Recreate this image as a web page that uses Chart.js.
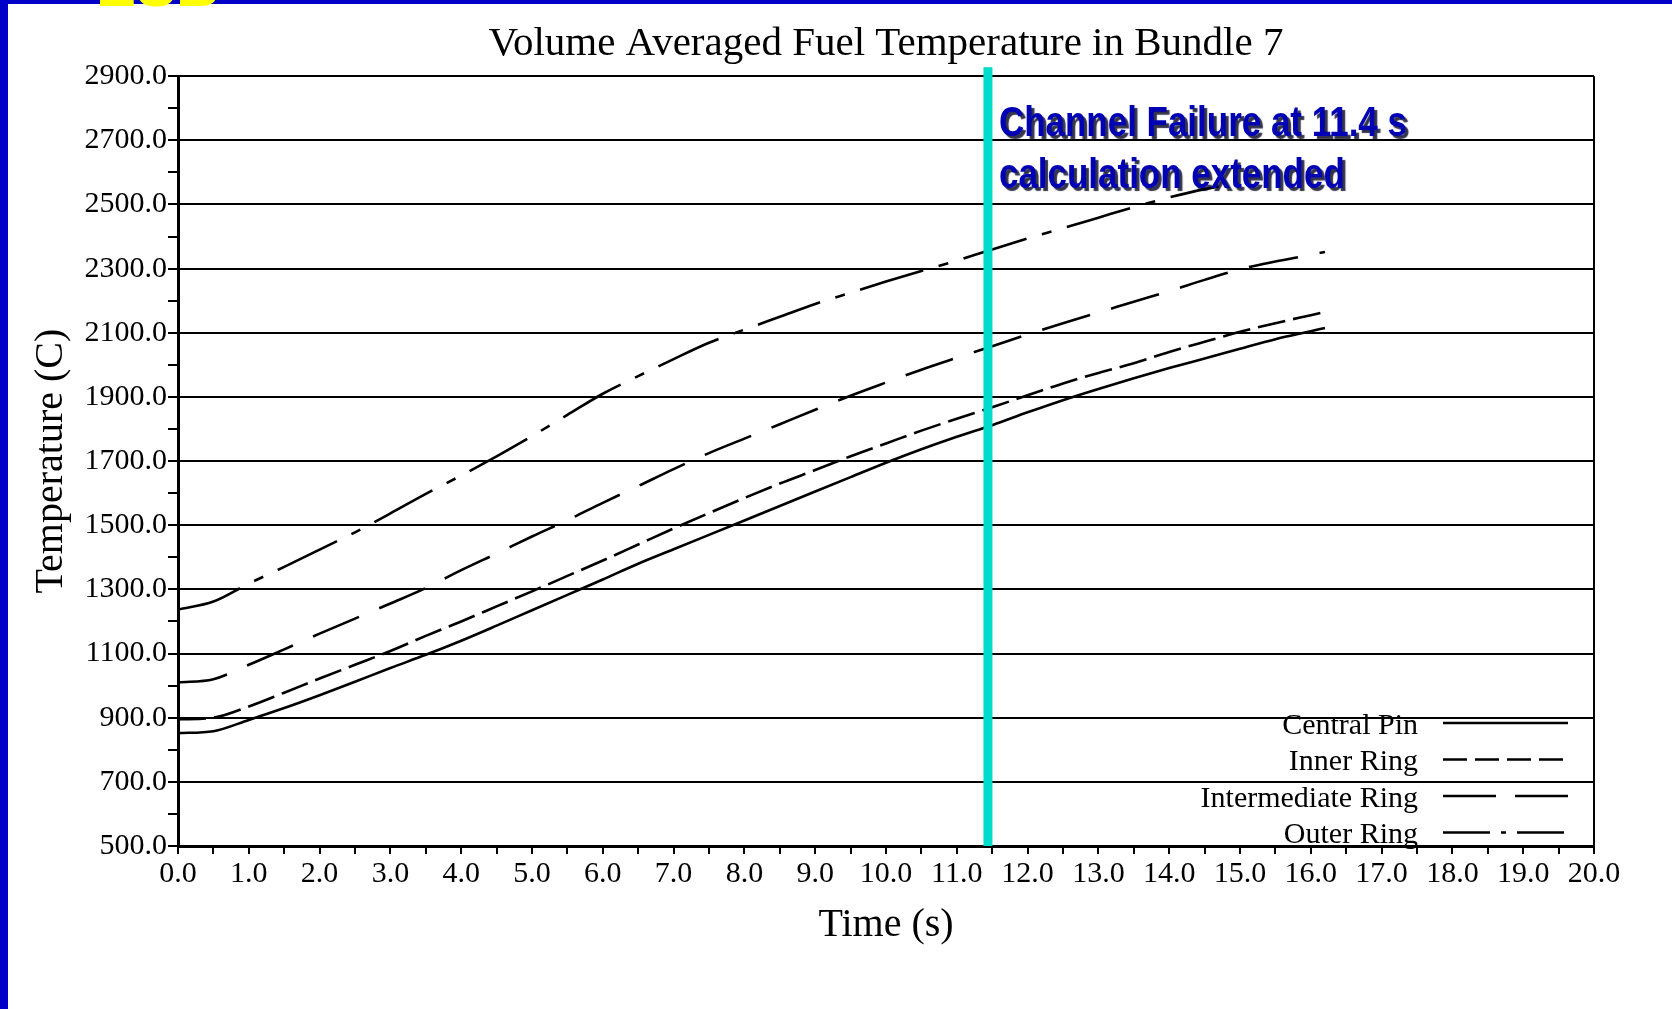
<!DOCTYPE html>
<html>
<head>
<meta charset="utf-8">
<title>Volume Averaged Fuel Temperature in Bundle 7</title>
<script src="https://cdn.jsdelivr.net/npm/chart.js@4.4.1/dist/chart.umd.min.js"></script>
<style>
  html, body { margin: 0; padding: 0; }
  body { width: 1672px; height: 1009px; background: #0000c8; position: relative; overflow: hidden; }
  #sheet { position: absolute; left: 8px; top: 4px; width: 1664px; height: 1005px; background: #fff; }
  #logo { position: absolute; left: 96px; top: 0; width: 140px; height: 12px; overflow: hidden; z-index: 2; }
  #logo span { position: absolute; left: 0; top: -44px; font: bold 60px 'Liberation Sans', sans-serif; color: #ffff00; line-height: 1; }
</style>
</head>
<body>
<div id="sheet"><canvas id="fuelChart" width="1664" height="1005"></canvas></div>
<div id="logo"><span>ESB</span></div>
<script>
// time points (s) shared by the first three series
const times = [0, 0.5, 1, 1.5, 2, 2.5, 3, 3.5, 4, 4.5, 5, 5.5, 6, 6.5, 7, 7.5, 8, 8.5,
               9, 9.5, 10, 10.5, 11, 11.5, 12, 12.5, 13, 13.5, 14, 14.5, 15, 15.5, 16, 16.2];

// temperatures (C)
const centralPin = [852, 858, 893, 930, 970, 1012, 1055, 1096, 1140, 1187, 1235, 1283, 1331, 1380, 1425, 1470, 1515, 1560,
                    1605, 1650, 1695, 1737, 1776, 1812, 1852, 1890, 1925, 1958, 1990, 2020, 2050, 2080, 2105, 2115];
const innerRing = [895, 900, 935, 978, 1022, 1065, 1108, 1155, 1200, 1247, 1294, 1342, 1390, 1440, 1490, 1538, 1585, 1630,
                   1672, 1715, 1755, 1795, 1832, 1868, 1905, 1942, 1975, 2005, 2040, 2072, 2103, 2130, 2155, 2165];
const intermediateRing = [1010, 1020, 1065, 1113, 1162, 1209, 1256, 1304, 1360, 1412, 1465, 1516, 1570, 1622, 1675, 1725, 1770, 1815,
                          1860, 1904, 1945, 1985, 2022, 2058, 2095, 2130, 2163, 2197, 2230, 2265, 2298, 2322, 2343, 2352];

// the outer ring curve stops earlier
const outerTimes = [0, 0.5, 1, 1.5, 2, 2.5, 3, 3.5, 4, 4.5, 5, 5.5, 6, 6.5, 7, 7.5, 8, 8.5,
                    9, 9.5, 10, 10.5, 11, 11.5, 12, 12.5, 13, 13.5, 14, 14.5, 14.7];
const outerRing = [1237, 1262, 1318, 1370, 1424, 1478, 1537, 1598, 1655, 1715, 1778, 1844, 1910, 1965, 2018, 2069, 2110, 2150,
                   2190, 2225, 2260, 2293, 2325, 2360, 2394, 2426, 2459, 2492, 2522, 2548, 2556];

const seriesNames = ['Central Pin', 'Inner Ring', 'Intermediate Ring', 'Outer Ring'];
const failureTime = 11.44;
const noteLines = ['Channel Failure at 11.4 s', 'calculation extended'];

function toPoints(xs, ys) {
    return xs.map(function(x, i) { return { x: x, y: ys[i] }; });
}

// cyan marker for the channel failure plus the blue note next to it
const failureMarker = {
    id: 'failureMarker',
    afterDatasetsDraw(chart) {
        const ctx = chart.ctx;
        const area = chart.chartArea;
        const x = chart.scales.x.getPixelForValue(failureTime);
        ctx.save();
        ctx.fillStyle = '#00dccb';
        ctx.fillRect(x - 4.5, area.top - 9, 9, area.bottom - area.top + 9);

        ctx.font = 'bold 43px "Liberation Sans", Arial, sans-serif';
        const sx = 408 / ctx.measureText(noteLines[0]).width; // squeeze to the narrow face of the original
        ctx.fillStyle = '#0000b4';
        ctx.shadowColor = 'rgba(0, 0, 30, 0.8)';
        ctx.shadowOffsetX = 3;
        ctx.shadowOffsetY = 3;
        ctx.shadowBlur = 1;
        ctx.textBaseline = 'alphabetic';
        noteLines.forEach(function(line, i) {
            ctx.save();
            ctx.translate(x + 11, area.top + 60 + i * 52);
            ctx.scale(sx, 1);
            ctx.fillText(line, 0, 0);
            ctx.restore();
        });
        ctx.restore();
    }
};

// legend inside the plot, label first then the line sample
const sideLegend = {
    id: 'sideLegend',
    afterDraw(chart) {
        const ctx = chart.ctx;
        const area = chart.chartArea;
        ctx.save();
        ctx.font = '30px "Liberation Serif", serif';
        ctx.textAlign = 'right';
        ctx.textBaseline = 'middle';
        ctx.fillStyle = '#000';
        ctx.strokeStyle = '#000';
        ctx.lineWidth = 2.5;
        chart.data.datasets.forEach(function(ds, i) {
            const y = area.bottom - 123 + i * 36.5;
            ctx.fillText(ds.label, area.right - 176, y + 3);
            ctx.setLineDash(ds.legendDash || []);
            ctx.beginPath();
            ctx.moveTo(area.right - 151, y);
            ctx.lineTo(area.right - 26, y);
            ctx.stroke();
        });
        ctx.restore();
    }
};

Chart.defaults.font.family = "'Liberation Serif', 'Times New Roman', serif";
Chart.defaults.color = '#000';

function curve(label, pts, dash, legendDash) {
    return {
        label: label,
        data: pts,
        borderColor: '#000',
        borderWidth: 2.6,
        borderDash: dash,
        legendDash: legendDash,
        pointRadius: 0,
        fill: false,
        cubicInterpolationMode: 'monotone'
    };
}

const ctx = document.getElementById('fuelChart').getContext('2d');
new Chart(ctx, {
    type: 'line',
    data: {
        datasets: [
            curve(seriesNames[0], toPoints(times, centralPin), [], []),
            curve(seriesNames[1], toPoints(times, innerRing), [28, 8], [24, 8]),
            curve(seriesNames[2], toPoints(times, intermediateRing), [50, 22], [53, 19]),
            curve(seriesNames[3], toPoints(outerTimes, outerRing), [66, 16, 10, 16], [47, 11, 5, 11])
        ]
    },
    options: {
        responsive: false,
        devicePixelRatio: 1,
        animation: false,
        layout: { padding: { left: 0, right: 78, top: 0, bottom: 0 } },
        plugins: {
            legend: { display: false },
            tooltip: { enabled: false },
            title: {
                display: true,
                fullSize: false,
                text: 'Volume Averaged Fuel Temperature in Bundle 7',
                color: '#000',
                font: { size: 41, weight: 'normal' },
                padding: { top: 16, bottom: 7 }
            }
        },
        scales: {
            x: {
                type: 'linear',
                min: 0,
                max: 20,
                afterFit: function(scale) { scale.height = 163; },
                title: {
                    display: true,
                    text: 'Time (s)',
                    font: { size: 40 },
                    padding: { top: 0, bottom: 60 }
                },
                ticks: {
                    stepSize: 0.5,
                    autoSkip: false,
                    maxRotation: 0,
                    padding: 2,
                    font: { size: 30 },
                    callback: function(v) { return Number.isInteger(v) ? v.toFixed(1) : ''; }
                },
                grid: {
                    color: function(c) { return c.tick && c.tick.value === 20 ? '#000' : 'transparent'; },
                    lineWidth: 2,
                    tickLength: 8,
                    tickColor: '#000',
                    tickWidth: 2
                },
                border: { color: '#000', width: 3 }
            },
            y: {
                type: 'linear',
                min: 500,
                max: 2900,
                afterFit: function(scale) { scale.width = 170; },
                title: {
                    display: true,
                    text: 'Temperature (C)',
                    font: { size: 40 },
                    padding: { top: 19, bottom: 0 }
                },
                ticks: {
                    stepSize: 100,
                    autoSkip: false,
                    padding: 1,
                    font: { size: 30 },
                    callback: function(v) { return v % 200 === 0 ? '' : v.toFixed(1); }
                },
                grid: {
                    color: function(c) {
                        const v = c.tick ? c.tick.value : 0;
                        return (v > 500 && v % 200 === 100) ? '#000' : 'transparent';
                    },
                    lineWidth: 2,
                    tickLength: 10,
                    tickColor: '#000',
                    tickWidth: 2
                },
                border: { color: '#000', width: 3 }
            }
        }
    },
    plugins: [failureMarker, sideLegend]
});
</script>
</body>
</html>
